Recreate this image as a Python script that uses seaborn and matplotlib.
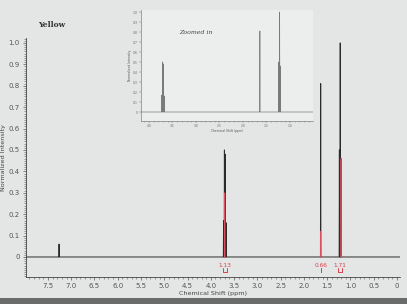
import numpy as np
import pandas as pd
import matplotlib
matplotlib.use("Agg")
import matplotlib.pyplot as plt
from matplotlib.ticker import MultipleLocator, FuncFormatter
from matplotlib.patches import Rectangle
import seaborn as sns

# ---- data ----
peak_ppm = [7.26, 3.726, 3.708, 3.691, 3.673, 1.64, 1.238, 1.220, 1.203]
peak_height = [0.06, 0.17, 0.50, 0.48, 0.16, 0.81, 0.50, 1.00, 0.46]
red_ppm = [3.700, 1.640, 1.203]
red_height = [0.30, 0.12, 0.46]
int_ppm = [3.70, 1.64, 1.22]
int_halfwidth = [0.043, 0.0, 0.045]
int_labels = ["1.13", "0.66", "1.71"]
x_ticks = [7.5, 7.0, 6.5, 6.0, 5.5, 5.0, 4.5, 4.0, 3.5, 3.0, 2.5, 2.0, 1.5, 1.0, 0.5, 0.0]
y_ticks = [0, 0.1, 0.2, 0.3, 0.4, 0.5, 0.6, 0.7, 0.8, 0.9, 1.0]
inset_x_ticks = [4.0, 3.5, 3.0, 2.5, 2.0, 1.5, 1.0]


def stick_frame(ppms, heights, lo, hi, w=0.005):
    xs, ys = [hi], [0.0]
    for p, h in sorted(zip(ppms, heights), key=lambda t: -t[0]):
        if lo <= p <= hi:
            xs += [p + w, p, p - w]
            ys += [0.0, h, 0.0]
    xs.append(lo)
    ys.append(0.0)
    return pd.DataFrame({"ppm": xs, "intensity": ys})


def red_frame(ppms, heights, w=0.005):
    rows = []
    for i, (p, h) in enumerate(zip(ppms, heights)):
        rows += [(i, p + w, 0.0), (i, p, h), (i, p - w, 0.0)]
    return pd.DataFrame(rows, columns=["peak", "ppm", "intensity"])


sns.set_theme(style="ticks")
plt.rcParams["font.family"] = ["DejaVu Sans"]
bg = "#e4e6e5"
fig = plt.figure(figsize=(4.07, 3.04), dpi=100, facecolor=bg)

ax = fig.add_axes([26 / 407, 1 - 277 / 304, 374 / 407, 239 / 304])
ax.set_facecolor(bg)
main_df = stick_frame(peak_ppm, peak_height, -0.064, 7.97)
red_df = red_frame(red_ppm, red_height)
sns.lineplot(data=main_df, x="ppm", y="intensity", sort=False, estimator=None,
             color="#2b2b2b", lw=0.7, ax=ax)
sns.lineplot(data=red_df, x="ppm", y="intensity", units="peak", sort=False,
             estimator=None, color="#d9505e", lw=0.6, ax=ax)

red = "#d9404f"
for p, w, lab in zip(int_ppm, int_halfwidth, int_labels):
    ax.text(p, -0.038, lab, color=red, fontsize=4.2, ha="center", va="center")
    ax.plot([p + w, p + w, p - w, p - w], [-0.052, -0.072, -0.072, -0.052],
            color=red, lw=0.7, clip_on=False)

ax.set_xlim(7.97, -0.064)
ax.set_ylim(-0.0935, 1.023)
ax.set_xticks(x_ticks)
ax.set_yticks(y_ticks)
ax.xaxis.set_minor_locator(MultipleLocator(0.1))
ax.yaxis.set_minor_locator(MultipleLocator(0.01))
fmt = FuncFormatter(lambda v, _: "0" if abs(v) < 1e-9 else f"{v:.1f}")
ax.xaxis.set_major_formatter(fmt)
ax.yaxis.set_major_formatter(fmt)
ax.tick_params(axis="both", which="major", labelsize=5, colors="#555555",
               length=2.5, width=0.5, pad=2)
ax.tick_params(axis="both", which="minor", length=1.3, width=0.4, colors="#555555")
for s in ["top", "right"]:
    ax.spines[s].set_visible(False)
for s in ["left", "bottom"]:
    ax.spines[s].set_linewidth(0.6)
    ax.spines[s].set_color("#444444")
ax.set_xlabel("Chemical Shift (ppm)", fontsize=4.6, color="#444444", labelpad=1)
ax.set_ylabel("Normalized Intensity", fontsize=4.6, color="#444444", labelpad=2)
fig.text(38 / 407, 1 - 25 / 304, "Yellow", fontsize=5.5, fontweight="bold",
         family="DejaVu Serif", color="#333333", va="center")

# ---- inset ----
ins = fig.add_axes([141 / 407, 1 - 121 / 304, 172 / 407, 111 / 304])
ins.set_facecolor("#eceeed")
ins_df = stick_frame(peak_ppm, peak_height, 0.51, 4.17, w=0.005)
sns.lineplot(data=ins_df, x="ppm", y="intensity", sort=False, estimator=None,
             color="#7a7a7a", lw=0.5, ax=ins)
ins.set_xlim(4.17, 0.51)
ins.set_ylim(-0.09, 1.02)
ins.set_xticks(inset_x_ticks)
ins.set_yticks(y_ticks)
ins.xaxis.set_minor_locator(MultipleLocator(0.1))
ins.xaxis.set_major_formatter(fmt)
ins.yaxis.set_major_formatter(fmt)
ins.tick_params(axis="both", which="major", labelsize=2.2, colors="#666666",
                length=1.2, width=0.3, pad=1)
ins.tick_params(axis="x", which="minor", length=0.7, width=0.3, colors="#666666")
for s in ["top", "right"]:
    ins.spines[s].set_visible(False)
for s in ["left", "bottom"]:
    ins.spines[s].set_linewidth(0.4)
    ins.spines[s].set_color("#666666")
ins.set_xlabel("Chemical Shift (ppm)", fontsize=2.2, color="#555555", labelpad=0.5)
ins.set_ylabel("Normalized Intensity", fontsize=2.2, color="#555555", labelpad=0.5)
ins.text(0.22, 0.78, "Zoomed in", transform=ins.transAxes, fontsize=4.5,
         family="DejaVu Serif", style="italic", color="#444444")

fig.patches.append(Rectangle((0, 0), 1, 6 / 304, transform=fig.transFigure,
                             facecolor="#6a6c6c", edgecolor="none", zorder=-1))

fig.savefig("out.png", dpi=100, facecolor=bg)
